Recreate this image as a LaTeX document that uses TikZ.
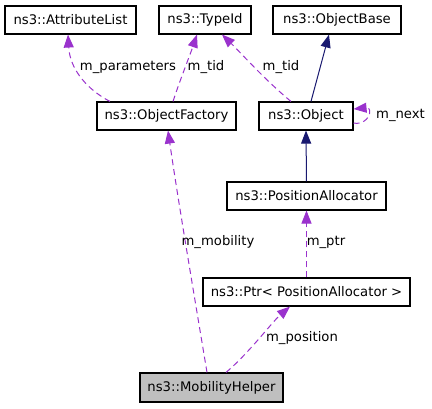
\documentclass[tikz,border=0pt]{standalone}
\usepackage{fontspec}
\setmainfont{DejaVu Sans}
\usetikzlibrary{arrows.meta}
\definecolor{dep}{HTML}{9A32CD}
\definecolor{inh}{HTML}{191970}
\definecolor{cur}{HTML}{BFBFBF}
\begin{document}
\begin{tikzpicture}[x=1pt,y=-1pt,
  box/.style={draw=black,line width=1.1pt,rectangle,inner sep=0pt,minimum height=28pt,font=\fontsize{13.2}{15}\selectfont},
  lbl/.style={inner sep=0pt,font=\fontsize{13.2}{15}\selectfont},
  depline/.style={draw=dep,line width=1pt,dash pattern=on 6pt off 4pt,-{Triangle[length=13pt,width=10pt,fill=dep,sep=0pt]}},
  inhline/.style={draw=inh,line width=1pt,-{Triangle[length=13pt,width=10pt,fill=inh]}}]
\useasboundingbox (0,0) rectangle (432,408);
\fill[white] (0,0) rectangle (432,408);
\node[box,minimum width=131pt] (attr) at (70.5,20) {ns3::AttributeList};
\node[box,minimum width=92pt] (typeid) at (205,20) {ns3::TypeId};
\node[box,minimum width=128pt] (objbase) at (337,20) {ns3::ObjectBase};
\node[box,minimum width=139pt] (objfac) at (166.5,116) {ns3::ObjectFactory};
\node[box,minimum width=94pt] (obj) at (306,116) {ns3::Object};
\node[box,minimum width=159pt] (posalloc) at (306.5,196) {ns3::PositionAllocator};
\node[box,minimum width=207pt] (ptr) at (306.5,292) {ns3::Ptr< PositionAllocator >};
\node[box,minimum width=143pt,minimum height=29pt,fill=cur] (mob) at (211.5,387.5) {ns3::MobilityHelper};
% edges
\draw[depline] (110,0 |- objfac.north) .. controls (88,90) and (70,70) .. (68,0 |- attr.south);
\draw[depline] (173,0 |- objfac.north) .. controls (180,80) and (190,55) .. (197,0 |- typeid.south);
\draw[depline] (291,0 |- obj.north) .. controls (265,80) and (240,52) .. (222,0 |- typeid.south);
\draw[inhline] (311,0 |- obj.north) -- (329,0 |- objbase.south);
\draw[depline] (obj.east |- 0,123) .. controls (369,126) and (374,107) .. (obj.east |- 0,109);
\draw[depline] (207,0 |- mob.north) .. controls (195,300) and (178,200) .. (168,0 |- objfac.south);
\draw[inhline] (posalloc.north) -- (obj.south);
\draw[depline] (ptr.north) -- (posalloc.south);
\draw[depline] (226,0 |- mob.north) .. controls (250,352) and (272,322) .. (290,0 |- ptr.south);
% labels
\node[lbl] (l1) at (128,67) {m\_parameters};
\node[lbl] (l2) at (206,67) {m\_tid};
\node[lbl] (l3) at (281,67) {m\_tid};
\node[lbl] (l4) at (400.5,115) {m\_next};
\node[lbl] (l5) at (218,242) {m\_mobility};
\node[lbl] (l6) at (326,242) {m\_ptr};
\node[lbl] (l7) at (302,338) {m\_position};
\end{tikzpicture}
\end{document}
